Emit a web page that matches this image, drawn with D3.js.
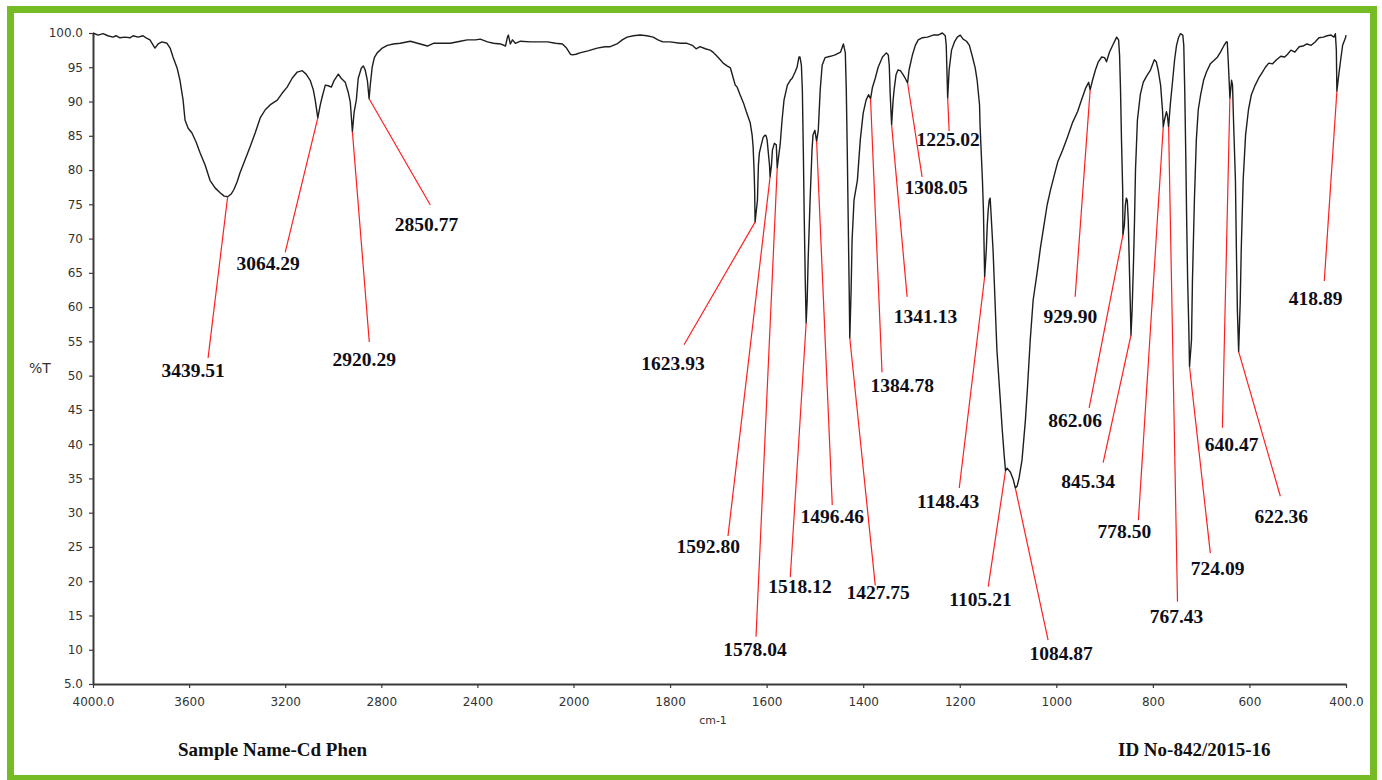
<!DOCTYPE html>
<html>
<head>
<meta charset="utf-8">
<script src="https://cdn.jsdelivr.net/npm/d3@7"></script>
<style>
  html, body { margin: 0; padding: 0; background: #ffffff; }
  svg { display: block; }
</style>
</head>
<body>
<svg id="chart" width="1382" height="780"></svg>
<script>
// FT-IR spectrum of Cd Phen: wavenumber (cm-1), %T
const spectrum = [
  [4000,100.0],[3979,99.7],[3958,99.9],[3938,99.6],[3917,99.4],[3904,99.6],[3888,99.3],[3867,99.4],
  [3846,99.3],[3833,99.6],[3812,99.4],[3792,99.6],[3779,99.3],[3763,99.0],[3742,97.8],[3729,98.4],
  [3713,98.7],[3692,98.5],[3679,97.8],[3667,96.5],[3650,94.9],[3638,93.1],[3625,90.2],[3617,87.3],
  [3604,86.1],[3588,85.4],[3571,84.1],[3554,82.5],[3533,80.7],[3513,78.5],[3492,77.4],[3471,76.7],
  [3454,76.2],[3425,76.5],[3413,77.2],[3400,78.3],[3388,79.6],[3367,81.5],[3346,83.4],[3325,85.4],
  [3304,87.6],[3283,88.8],[3263,89.5],[3233,90.2],[3213,91.2],[3192,92.1],[3171,93.4],[3150,94.3],
  [3129,94.5],[3113,94.0],[3096,93.1],[3083,91.7],[3075,90.2],[3054,89.5],[3046,90.7],[3033,92.4],
  [3021,92.3],[3008,92.1],[2996,93.1],[2979,94.0],[2967,93.4],[2950,92.8],[2938,91.4],[2929,89.9],
  [2913,88.5],[2904,90.2],[2896,93.4],[2883,94.9],[2875,95.2],[2867,94.6],[2858,93.1],[2846,92.4],
  [2838,95.0],[2829,96.4],[2817,97.1],[2796,97.8],[2775,98.2],[2750,98.4],[2721,98.5],[2679,98.8],
  [2638,98.4],[2608,98.1],[2583,98.5],[2554,98.5],[2513,98.5],[2471,98.8],[2442,99.0],[2408,99.0],
  [2388,99.1],[2358,98.7],[2333,98.5],[2304,98.4],[2283,98.1],[2275,99.4],[2271,99.7],[2263,98.4],
  [2254,99.0],[2242,98.5],[2221,98.8],[2179,98.7],[2138,98.7],[2108,98.7],[2075,98.5],[2046,98.4],
  [2029,97.8],[2013,96.9],[2004,96.8],[1995,96.9],[1987,97.1],[1970,97.4],[1951,97.8],[1935,98.0],
  [1924,98.0],[1910,98.4],[1899,99.0],[1889,99.4],[1876,99.6],[1862,99.7],[1848,99.6],[1835,99.4],
  [1825,99.0],[1815,98.7],[1800,98.7],[1779,98.5],[1765,98.5],[1754,98.2],[1746,97.7],[1738,98.0],
  [1727,97.7],[1717,97.5],[1711,97.2],[1705,96.8],[1696,96.1],[1690,95.6],[1682,95.2],[1675,94.9],
  [1669,93.4],[1665,92.4],[1661,92.1],[1655,91.0],[1648,89.8],[1642,88.5],[1634,86.9],[1630,85.1],
  [1628,83.4],[1626,80.0],[1624.8,77.1],[1619,75.6],[1617,80.7],[1615,82.5],[1611,83.7],[1607,84.8],
  [1603,85.1],[1601,85.0],[1599,84.4],[1597,82.9],[1594,80.7],[1590,80.7],[1588,82.9],[1584,83.9],
  [1580,83.7],[1576,81.5],[1572,83.7],[1568,87.3],[1564,90.2],[1557,92.4],[1551,93.1],[1547,93.4],
  [1541,94.3],[1537,95.0],[1533,96.5],[1531,96.5],[1528,95.3],[1526,91.7],[1524,82.9],[1522,72.7],
  [1520,64.0],[1516,61.0],[1514,66.9],[1510,75.6],[1506,82.9],[1504,85.1],[1500,85.8],[1493,85.8],
  [1489,91.7],[1485,95.3],[1479,96.4],[1468,96.6],[1458,96.8],[1447,97.2],[1441,98.4],[1437,97.1],
  [1435,91.7],[1433,82.9],[1431,72.7],[1429,62.5],[1425,62.5],[1423,69.8],[1419,75.6],[1412,78.5],
  [1406,84.4],[1400,88.3],[1394,90.2],[1389,91.0],[1381,92.0],[1375,93.4],[1369,95.0],[1360,96.5],
  [1352,97.1],[1348,96.8],[1346,95.3],[1344,91.0],[1338,90.2],[1336,91.7],[1332,93.9],[1328,94.6],
  [1323,94.5],[1317,93.9],[1313,93.4],[1305,94.6],[1298,96.8],[1292,98.2],[1286,99.0],[1278,99.3],
  [1267,99.4],[1255,99.7],[1245,99.7],[1236,100.0],[1230,99.6],[1228,98.2],[1222,94.6],[1217,97.5],
  [1211,98.7],[1205,99.4],[1199,99.7],[1193,99.1],[1186,98.8],[1180,98.2],[1174,96.6],[1168,94.9],
  [1164,93.1],[1159,89.5],[1158,86.6],[1153,78.5],[1151,74.2],[1145,68.4],[1143,72.0],[1141,74.2],
  [1139,75.6],[1137,75.9],[1135,73.4],[1131,68.3],[1127,61.0],[1123,53.7],[1116,46.4],[1112,42.1],
  [1108,38.4],[1102,36.5],[1095,35.9],[1089,34.8],[1081,33.9],[1077,35.1],[1071,37.7],[1064,43.5],
  [1060,47.9],[1054,55.2],[1048,61.0],[1039,65.4],[1033,68.6],[1027,71.3],[1019,74.9],[1012,77.1],
  [1004,79.3],[997,81.2],[987,82.9],[977,84.8],[966,87.0],[956,88.5],[948,90.2],[939,92.0],
  [933,92.8],[925,93.1],[919,94.6],[913,95.8],[906,96.5],[900,96.4],[896,95.8],[890,97.2],
  [882,98.4],[875,99.4],[871,99.0],[869,96.8],[867,91.7],[865,84.4],[862.5,77.1],[859,72.0],
  [857,74.9],[855,75.9],[853,75.6],[851,72.7],[849,66.9],[847,61.0],[843,59.6],[840,66.9],
  [838,72.7],[836,80.0],[832,87.3],[826,91.0],[820,92.8],[813,93.7],[805,94.6],[797,96.1],
  [793,95.8],[789,94.6],[784,92.4],[780,88.7],[776,87.3],[772,88.5],[770,88.0],[764,89.5],
  [759,93.1],[755,96.1],[751,98.2],[747,99.3],[743,99.9],[738,99.7],[736,98.2],[734,91.7],
  [732,82.9],[730,72.7],[728,64.0],[725.5,56.7],[720,55.2],[718,64.0],[714,75.6],[710,84.4],
  [706,88.8],[701,91.0],[695,93.1],[689,94.3],[681,95.5],[672,96.1],[666,96.5],[660,97.2],
  [654,98.0],[648,98.7],[646,98.7],[644,96.1],[637,93.1],[635,92.4],[633,87.3],[629,78.5],
  [627,68.3],[625,59.6],[619,61.0],[617,68.3],[613,78.5],[608,85.1],[602,88.8],[596,91.0],
  [588,92.4],[581,93.4],[573,94.3],[567,95.0],[560,95.6],[552,95.5],[544,96.1],[535,96.6],
  [527,96.5],[521,96.9],[514,97.5],[506,97.2],[497,98.0],[489,98.1],[481,98.4],[472,98.2],
  [464,98.7],[456,99.3],[447,99.4],[439,99.6],[431,99.7],[425,99.4],[422,99.9],[420,97.5],
  [415,93.9],[411,96.1],[407,98.2],[401,99.3],[400,99.7]
];

// Marked band minima
const peakWavenumbers = [3439.51, 3064.29, 2920.29, 2850.77, 1623.93, 1592.80, 1578.04, 1518.12,
  1496.46, 1427.75, 1384.78, 1341.13, 1308.05, 1225.02, 1148.43, 1105.21, 1084.87, 929.90,
  862.06, 845.34, 778.50, 767.43, 724.09, 640.47, 622.36, 418.89];
const peakTransmittance = [76.1, 87.6, 85.6, 90.4, 72.4, 79.0, 80.3, 57.7,
  84.2, 55.5, 90.4, 86.6, 92.7, 90.5, 64.4, 36.1, 33.6, 91.7,
  70.5, 55.9, 86.3, 86.3, 51.3, 90.5, 53.5, 91.5];
// Where each leader line ends, in (cm-1, %T)
const leaderEnds = [[3521,52.6],[3200,68.0],[2850,54.9],[2596,74.9],[1771,54.5],[1680,26.6],
  [1622,11.9],[1551,20.6],[1464,31.1],[1375,19.4],[1361,50.5],[1309,61.5],[1278,79.0],
  [1222,85.7],[1201,33.6],[1141,19.2],[1017,11.4],[961,61.5],[932,45.3],[903,37.3],
  [830,28.9],[749,17.0],[681,24.1],[656,42.4],[536,32.4],[445,63.8]];
// Centre of each peak label, in (cm-1, %T)
const labelAnchors = [[3583,50.8],[3271,66.4],[2871,52.3],[2612,72.1],[1794,51.8],[1721,25.0],
  [1624,10.0],[1531,19.2],[1464,29.4],[1369,18.4],[1319,48.5],[1271,58.7],[1249,77.4],
  [1224,84.4],[1224,31.7],[1157,17.3],[990,9.4],[971,58.7],[961,43.5],[934,34.6],
  [859,27.3],[751,14.9],[666,21.8],[637,40.0],[534,29.5],[463,61.3]];

const xTickValues = [4000, 3600, 3200, 2800, 2400, 2000, 1800, 1600, 1400, 1200, 1000, 800, 600, 400];
const xTickLabels = ["4000.0", "3600", "3200", "2800", "2400", "2000", "1800", "1600", "1400", "1200", "1000", "800", "600", "400.0"];
const yTickValues = [100, 95, 90, 85, 80, 75, 70, 65, 60, 55, 50, 45, 40, 35, 30, 25, 20, 15, 10, 5];
const yTickLabels = ["100.0", "95", "90", "85", "80", "75", "70", "65", "60", "55", "50", "45", "40", "35", "30", "25", "20", "15", "10", "5.0"];

const svg = d3.select("#chart");

// Wavenumber axis is expanded 2x below 2000 cm-1
const x = d3.scaleLinear().domain([4000, 2000, 400]).range([93, 573.5, 1346]);
const y = d3.scaleLinear().domain([5, 100]).range([684, 33]);

// Frame
svg.append("rect")
  .attr("x", 10.5).attr("y", 9.5).attr("width", 1363).attr("height", 769)
  .attr("fill", "none").attr("stroke", "#74bb24").attr("stroke-width", 7);

// Axes
const tickFont = "'DejaVu Sans', Verdana, sans-serif";
const xAxis = d3.axisBottom(x).tickValues(xTickValues)
  .tickFormat((d, i) => xTickLabels[i]).tickSize(4).tickSizeOuter(0).tickPadding(9);
const yAxis = d3.axisLeft(y).tickValues(yTickValues)
  .tickFormat((d, i) => yTickLabels[i]).tickSize(4).tickSizeOuter(0).tickPadding(6);

const gx = svg.append("g").attr("transform", `translate(0,${y(5)})`).call(xAxis);
const gy = svg.append("g").attr("transform", `translate(${x(4000)},0)`).call(yAxis);
[gx, gy].forEach(g => {
  g.select(".domain").attr("stroke", "#3a3a3a").attr("stroke-width", 2);
  g.selectAll(".tick line").attr("stroke", "#3a3a3a").attr("stroke-width", 1.2);
  g.selectAll(".tick text").attr("fill", "#333").style("font-family", tickFont).style("font-size", "12px");
});

svg.append("text").attr("x", 40).attr("y", 368).attr("text-anchor", "middle")
  .attr("dominant-baseline", "central").attr("fill", "#333")
  .style("font-family", tickFont).style("font-size", "14px").text("%T");
svg.append("text").attr("x", 713).attr("y", 720).attr("text-anchor", "middle")
  .attr("dominant-baseline", "central").attr("fill", "#333")
  .style("font-family", tickFont).style("font-size", "11px").text("cm-1");

// Spectrum trace, with the marked minima merged in
const peaks = peakWavenumbers.map((w, i) => [w, peakTransmittance[i]]);
const trace = spectrum.concat(peaks).sort((a, b) => b[0] - a[0]);
svg.append("path")
  .datum(trace)
  .attr("fill", "none").attr("stroke", "#1e1e1e").attr("stroke-width", 1.4)
  .attr("stroke-linejoin", "round")
  .attr("d", d3.line().x(d => x(d[0])).y(d => y(d[1])));

// Leader lines
svg.append("g").selectAll("line").data(peaks).join("line")
  .attr("x1", d => x(d[0])).attr("y1", d => y(d[1]))
  .attr("x2", (d, i) => x(leaderEnds[i][0])).attr("y2", (d, i) => y(leaderEnds[i][1]))
  .attr("stroke", "#ff1f1f").attr("stroke-width", 1.2);

// Peak labels
svg.append("g").selectAll("text").data(peakWavenumbers).join("text")
  .attr("x", (d, i) => x(labelAnchors[i][0])).attr("y", (d, i) => y(labelAnchors[i][1]))
  .attr("text-anchor", "middle").attr("dominant-baseline", "central")
  .attr("fill", "#0e0e18")
  .style("font-family", "'Liberation Serif', 'Times New Roman', serif")
  .style("font-weight", "bold").style("font-size", "19.5px")
  .text(d => d.toFixed(2));

// Footer
const footFont = "'Liberation Serif', 'Times New Roman', serif";
svg.append("text").attr("x", 178).attr("y", 756).attr("fill", "#111")
  .style("font-family", footFont).style("font-weight", "bold").style("font-size", "19px")
  .text("Sample Name-Cd Phen");
svg.append("text").attr("x", 1118).attr("y", 756).attr("fill", "#111")
  .style("font-family", footFont).style("font-weight", "bold").style("font-size", "19px")
  .text("ID No-842/2015-16");
</script>
</body>
</html>
